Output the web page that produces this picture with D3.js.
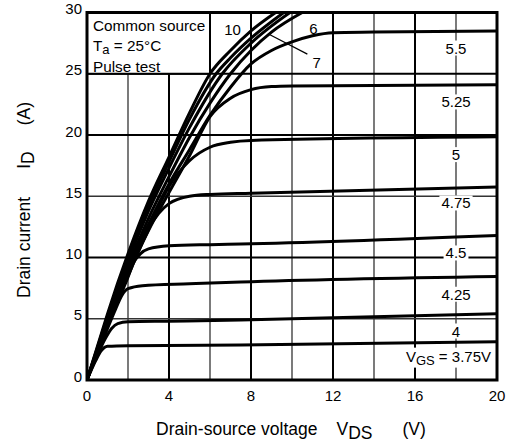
<!DOCTYPE html>
<html>
<head>
<meta charset="utf-8">
<script src="https://cdn.jsdelivr.net/npm/d3@7"></script>
<style>
  body { margin: 0; background: #fff; }
  text { font-family: "Liberation Sans", Arial, sans-serif; fill: #000; }
</style>
</head>
<body>
<script>
// Drain current vs drain-source voltage, one curve per gate voltage
var vdsTicks = [0, 4, 8, 12, 16, 20]
var idTicks = [0, 5, 10, 15, 20, 25, 30]
var vdsGrid = [2, 4, 6, 8, 10, 12, 14, 16, 18]
var idGrid = [5, 10, 15, 20, 25]

// [VDS (V), ID (A)]
var vgs10 = [[0,0],[0.5,2.7],[1,5.4],[2,10.3],[3,14.6],[4,18.2],[5,21.8],[6,25],[7,26.9],[8,28.5],[9.2,30]]
var vgs8 = [[0,0],[0.5,2.6],[1,5.2],[2,10.0],[3,14.2],[4,17.8],[5,21.3],[6.3,25],[7,26.3],[8,27.9],[9.6,30]]
var vgs7 = [[0,0],[0.5,2.5],[1,5.0],[2,9.7],[3,13.8],[4,17.3],[5,20.6],[6.6,25],[8,27.5],[9.9,30]]
var vgs6 = [[0,0],[0.5,2.4],[1,4.8],[2,9.3],[3,13.2],[4,16.6],[5,19.8],[6,22.6],[7,25],[8,26.9],[9,28.4],[10.5,30]]
var vgs55 = [[0,0],[0.5,2.4],[1,4.7],[2,9.0],[3,12.7],[4,16.0],[5,18.8],[6,21.6],[7,23.9],[8,25.8],[9,26.9],[10,27.6],[11,28.1],[12,28.35],[14,28.4],[20,28.5]]
var vgs525 = [[0,0],[0.5,2.4],[1,4.6],[2,8.7],[3,12.2],[4,15.3],[5,18.3],[6,21.5],[7,23.0],[8,23.7],[9,23.95],[10,24.0],[20,24.1]]
var vgs5 = [[0,0],[0.5,2.3],[1,4.5],[2,8.5],[3,12.3],[4,15.8],[5,17.9],[6,19.0],[7,19.4],[8,19.55],[20,19.85]]
var vgs475 = [[0,0],[0.5,2.3],[1,4.4],[2,8.4],[2.8,11.8],[3.5,13.6],[4,14.4],[5,15.0],[6,15.15],[8,15.25],[20,15.75]]
var vgs45 = [[0,0],[0.5,2.3],[1,4.4],[1.8,7.8],[2.2,9.4],[2.6,10.3],[3,10.7],[4,10.95],[6,11.05],[7.5,11.1],[20,11.8]]
var vgs425 = [[0,0],[0.5,2.2],[1,4.2],[1.4,5.8],[1.7,6.9],[2,7.45],[2.7,7.7],[5,7.85],[7.5,8.0],[20,8.45]]
var vgs4 = [[0,0],[0.5,2.0],[0.9,3.4],[1.2,4.2],[1.5,4.6],[2,4.75],[4,4.8],[7.5,4.9],[20,5.4]]
var vgs375 = [[0,0],[0.4,1.5],[0.7,2.4],[1,2.75],[2,2.8],[7.5,2.85],[20,3.13]]

var curves = [vgs10, vgs8, vgs7, vgs6, vgs55, vgs525, vgs5, vgs475, vgs45, vgs425, vgs4, vgs375]

// curve labels on the right-hand column, anchored at [VDS, ID]
var rightLabels = ['5.5', '5.25', '5', '4.75', '4.5', '4.25', '4']
var rightLabelAt = [[18, 27.1], [18, 22.7], [18, 18.4], [18, 14.45], [18, 10.37], [18, 7.0], [18, 4.0]]

var width = 511, height = 448
var margin = {top: 12.5, right: 14, bottom: 68, left: 87}
var plotW = width - margin.left - margin.right
var plotH = height - margin.top - margin.bottom

var svg = d3.select('body')
            .append('svg')
            .attr('width', width)
            .attr('height', height)

var x = d3.scaleLinear().domain([0, 20]).range([margin.left, margin.left + plotW])
var y = d3.scaleLinear().domain([0, 30]).range([margin.top + plotH, margin.top])

// grid
svg.selectAll('line.vgrid')
   .data(vdsGrid)
   .enter()
   .append('line')
   .attr('x1', function(d){ return x(d) })
   .attr('x2', function(d){ return x(d) })
   .attr('y1', y(0))
   .attr('y2', y(30))
   .attr('stroke', function(d){ return d % 4 == 0 ? '#000' : '#333' })
   .attr('stroke-width', function(d){ return d % 4 == 0 ? 2 : 1.3 })

svg.selectAll('line.hgrid')
   .data(idGrid)
   .enter()
   .append('line')
   .attr('x1', x(0))
   .attr('x2', x(20))
   .attr('y1', function(d){ return y(d) })
   .attr('y2', function(d){ return y(d) })
   .attr('stroke', function(d){ return d % 10 == 0 || d == 25 ? '#000' : '#333' })
   .attr('stroke-width', function(d){ return d % 10 == 0 || d == 25 ? 2 : 1.3 })

// condition box, top-left
svg.append('rect')
   .attr('x', x(0))
   .attr('y', y(30))
   .attr('width', x(6) - x(0))
   .attr('height', y(25) - y(30))
   .attr('fill', '#fff')
   .attr('stroke', '#000')
   .attr('stroke-width', 2)

var legend = svg.append('text')
                .attr('x', x(0) + 6)
                .attr('y', y(30) + 18)
                .style('font-size', '15.3px')
legend.append('tspan').text('Common source')
var ta = legend.append('tspan').attr('x', x(0) + 6).attr('dy', 20.5)
ta.append('tspan').text('T')
ta.append('tspan').attr('dy', 3).style('font-size', '13px').text('a')
ta.append('tspan').attr('dy', -3).text(' = 25°C')
legend.append('tspan').attr('x', x(0) + 6).attr('dy', 20.5).text('Pulse test')

// curves
var line = d3.line()
             .x(function(d){ return x(d[0]) })
             .y(function(d){ return y(d[1]) })
             .curve(d3.curveMonotoneX)

svg.append('defs').append('clipPath')
   .attr('id', 'plot')
   .append('rect')
   .attr('x', x(0)).attr('y', y(30))
   .attr('width', plotW).attr('height', plotH)

svg.append('g')
   .attr('clip-path', 'url(#plot)')
   .selectAll('path')
   .data(curves)
   .enter()
   .append('path')
   .attr('d', line)
   .attr('fill', 'none')
   .attr('stroke', '#000')
   .attr('stroke-width', 3)
   .attr('stroke-linejoin', 'round')

// right-hand labels with white knock-out
var rl = svg.selectAll('g.rl')
            .data(rightLabels)
            .enter()
            .append('g')
rl.append('text')
  .attr('x', function(d, i){ return x(rightLabelAt[i][0]) })
  .attr('y', function(d, i){ return y(rightLabelAt[i][1]) })
  .attr('text-anchor', 'middle')
  .attr('dominant-baseline', 'central')
  .style('font-size', '15px')
  .text(function(d){ return d })
rl.each(function(){
  var g = d3.select(this)
  var b = g.select('text').node().getBBox()
  g.insert('rect', 'text')
   .attr('x', b.x - 2).attr('y', b.y + 1)
   .attr('width', b.width + 4).attr('height', b.height - 2)
   .attr('fill', '#fff')
})

var vgsLabel = svg.append('g')
var vgsText = vgsLabel.append('text')
                      .attr('x', x(20) - 6)
                      .attr('y', y(1.5))
                      .attr('text-anchor', 'end')
                      .style('font-size', '15px')
vgsText.append('tspan').text('V')
vgsText.append('tspan').attr('dy', 3).style('font-size', '13px').text('GS')
vgsText.append('tspan').attr('dy', -3).text(' = 3.75V')
var vb = vgsText.node().getBBox()
vgsLabel.insert('rect', 'text')
        .attr('x', vb.x - 3).attr('y', vb.y)
        .attr('width', vb.width + 5).attr('height', vb.height)
        .attr('fill', '#fff')

// labels of the steep curves
svg.append('text').attr('x', x(7.1)).attr('y', y(28.6))
   .attr('text-anchor', 'middle').attr('dominant-baseline', 'central')
   .style('font-size', '15px').text('10')
svg.append('text').attr('x', x(11.05)).attr('y', y(28.7))
   .attr('text-anchor', 'middle').attr('dominant-baseline', 'central')
   .style('font-size', '15px').text('6')
svg.append('text').attr('x', x(11.2)).attr('y', y(25.9))
   .attr('text-anchor', 'middle').attr('dominant-baseline', 'central')
   .style('font-size', '15px').text('7')
svg.append('line')
   .attr('x1', x(8.9)).attr('y1', y(28.2))
   .attr('x2', x(10.75)).attr('y2', y(26.6))
   .attr('stroke', '#000').attr('stroke-width', 1.2)

// frame
svg.append('rect')
   .attr('x', x(0)).attr('y', y(30))
   .attr('width', plotW).attr('height', plotH)
   .attr('fill', 'none')
   .attr('stroke', '#000')
   .attr('stroke-width', 3)

// tick labels
svg.selectAll('text.xt')
   .data(vdsTicks)
   .enter()
   .append('text')
   .attr('x', function(d){ return x(d) })
   .attr('y', y(0) + 21)
   .attr('text-anchor', 'middle')
   .style('font-size', '15px')
   .text(function(d){ return d })

svg.selectAll('text.yt')
   .data(idTicks)
   .enter()
   .append('text')
   .attr('x', x(0) - 5)
   .attr('y', function(d){ return y(d) })
   .attr('dy', '0.1em')
   .attr('text-anchor', 'end')
   .style('font-size', '15px')
   .text(function(d){ return d })

// axis titles
var xt = svg.append('text')
            .attr('x', 156)
            .attr('y', 435)
            .style('font-size', '17.5px')
xt.append('tspan').text('Drain-source voltage')
xt.append('tspan').attr('dx', 19).text('V')
xt.append('tspan').attr('dy', 4).text('DS')
xt.append('tspan').attr('dy', -4).attr('dx', 30).text('(V)')

var yt = svg.append('text')
            .attr('transform', 'translate(30,298) rotate(-90)')
            .style('font-size', '17.5px')
yt.append('tspan').text('Drain current')
yt.append('tspan').attr('dx', 28).text('I')
yt.append('tspan').attr('dy', 4).text('D')
yt.append('tspan').attr('dy', -4).attr('dx', 26).text('(A)')
</script>
</body>
</html>
